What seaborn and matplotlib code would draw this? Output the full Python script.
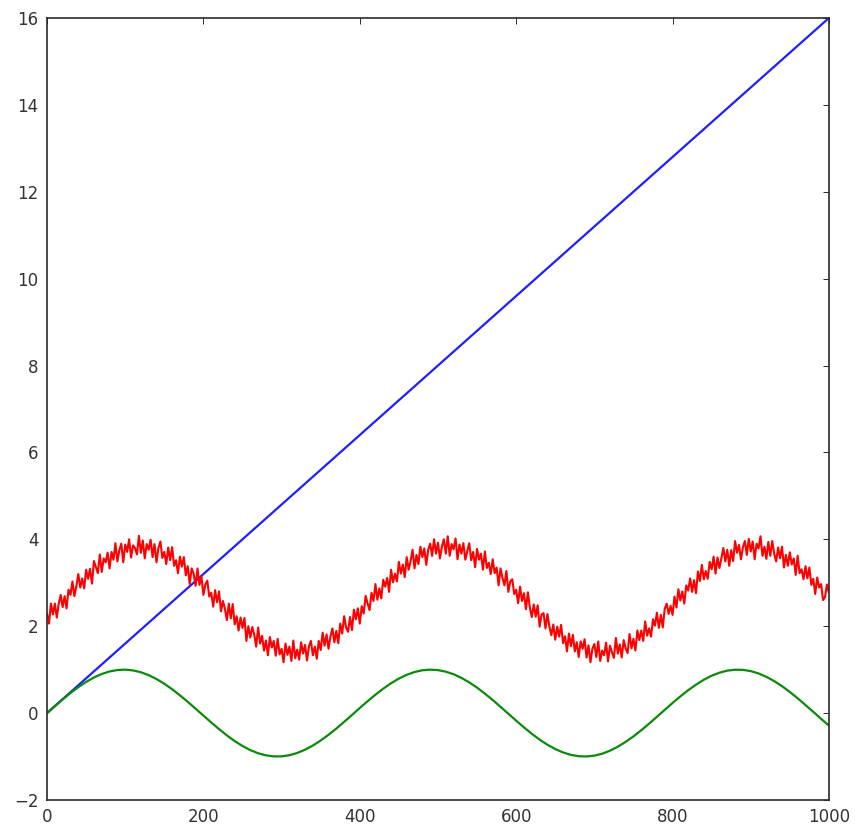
import matplotlib
matplotlib.use("Agg")
import matplotlib.pyplot as plt
import seaborn as sns

# x positions for each series
x_line = [0, 1000]
x_wave = [i * 10 for i in range(101)]
x_noisy = [i * 2.5 for i in range(401)]

# straight ramp
y_line = [0.0, 16.0]

# smooth wave
y_wave = [
    0.000, 0.159, 0.315, 0.462, 0.597, 0.717, 0.819, 0.900, 0.958, 0.991,
    1.000, 0.982, 0.940, 0.873, 0.784, 0.675, 0.549, 0.408, 0.259, 0.101,
    -0.058, -0.216, -0.369, -0.513, -0.645, -0.757, -0.853, -0.925, -0.973, -0.997,
    -0.996, -0.970, -0.918, -0.843, -0.747, -0.631, -0.500, -0.356, -0.202, -0.043,
    0.117, 0.273, 0.423, 0.562, 0.687, 0.794, 0.880, 0.945, 0.985, 1.000,
    0.989, 0.953, 0.894, 0.810, 0.706, 0.585, 0.448, 0.301, 0.144, -0.015,
    -0.175, -0.329, -0.476, -0.611, -0.729, -0.828, -0.906, -0.962, -0.993, -0.999,
    -0.980, -0.935, -0.866, -0.774, -0.662, -0.537, -0.395, -0.244, -0.086, 0.074,
    0.232, 0.384, 0.526, 0.655, 0.767, 0.860, 0.930, 0.977, 0.998, 0.995,
    0.966, 0.912, 0.835, 0.736, 0.619, 0.486, 0.341, 0.186, 0.028, -0.132,
    -0.288,
]

# noisy, offset wave
y_noisy = [
    2.29, 2.06, 2.52, 2.27, 2.52, 2.20, 2.52, 2.72, 2.44, 2.69,
    2.41, 2.84, 2.72, 3.03, 2.69, 2.92, 3.20, 2.89, 3.10, 2.87,
    3.30, 3.09, 3.32, 2.98, 3.50, 3.36, 3.22, 3.65, 3.25, 3.56,
    3.47, 3.69, 3.33, 3.71, 3.53, 3.91, 3.49, 3.75, 3.90, 3.47,
    3.88, 3.71, 4.00, 3.58, 3.86, 3.80, 3.65, 4.08, 3.69, 3.97,
    3.56, 3.89, 3.76, 3.99, 3.59, 3.89, 3.47, 3.80, 3.95, 3.57,
    3.71, 3.43, 3.81, 3.52, 3.82, 3.39, 3.52, 3.22, 3.60, 3.37,
    3.59, 3.17, 3.38, 2.97, 3.33, 3.21, 2.93, 3.33, 2.95, 3.14,
    2.72, 2.96, 3.05, 2.68, 2.77, 2.45, 2.83, 2.55, 2.80, 2.34,
    2.58, 2.40, 2.14, 2.52, 2.18, 2.51, 2.04, 2.23, 1.90, 2.20,
    1.96, 2.19, 1.66, 2.00, 1.74, 1.98, 1.81, 1.53, 1.97, 1.60,
    1.78, 1.44, 1.67, 1.33, 1.75, 1.51, 1.66, 1.32, 1.71, 1.35,
    1.48, 1.17, 1.60, 1.34, 1.53, 1.20, 1.67, 1.26, 1.46, 1.23,
    1.63, 1.37, 1.57, 1.21, 1.54, 1.66, 1.33, 1.53, 1.25, 1.66,
    1.45, 1.85, 1.55, 1.81, 1.48, 1.76, 1.95, 1.63, 1.89, 1.61,
    2.06, 1.83, 2.23, 1.97, 1.87, 2.21, 1.91, 2.38, 2.16, 2.41,
    2.06, 2.46, 2.29, 2.70, 2.52, 2.37, 2.77, 2.58, 2.97, 2.61,
    2.87, 2.64, 3.07, 2.91, 3.11, 2.79, 3.30, 3.01, 3.21, 3.03,
    3.48, 3.21, 3.42, 3.13, 3.59, 3.30, 3.50, 3.76, 3.33, 3.64,
    3.43, 3.83, 3.59, 3.79, 3.41, 3.76, 3.90, 3.62, 4.00, 3.67,
    3.92, 3.56, 3.83, 4.00, 3.67, 4.07, 3.62, 3.89, 3.77, 4.02,
    3.54, 3.88, 3.67, 3.91, 3.53, 3.73, 3.91, 3.52, 3.71, 3.36,
    3.78, 3.53, 3.67, 3.30, 3.72, 3.34, 3.46, 3.20, 3.54, 3.22,
    3.35, 2.94, 3.33, 3.11, 2.94, 3.27, 2.79, 3.03, 3.08, 2.74,
    2.84, 2.53, 2.91, 2.58, 2.76, 2.39, 2.78, 2.43, 2.21, 2.50,
    2.22, 2.48, 1.99, 2.27, 2.30, 1.95, 2.28, 1.99, 1.79, 2.04,
    1.69, 1.99, 1.76, 2.03, 1.61, 1.77, 1.42, 1.83, 1.54, 1.80,
    1.42, 1.63, 1.29, 1.65, 1.48, 1.70, 1.28, 1.56, 1.17, 1.48,
    1.59, 1.29, 1.65, 1.20, 1.44, 1.33, 1.62, 1.19, 1.55, 1.40,
    1.27, 1.73, 1.37, 1.58, 1.28, 1.68, 1.49, 1.38, 1.82, 1.49,
    1.71, 1.44, 1.90, 1.68, 1.90, 1.66, 2.11, 1.78, 1.95, 1.76,
    2.16, 2.01, 2.31, 1.96, 2.26, 1.97, 2.40, 2.52, 2.28, 2.47,
    2.26, 2.68, 2.43, 2.85, 2.59, 2.80, 2.52, 2.94, 2.82, 3.10,
    2.79, 3.06, 2.76, 3.26, 3.04, 3.41, 3.08, 3.27, 3.09, 3.48,
    3.31, 3.60, 3.21, 3.58, 3.34, 3.57, 3.80, 3.49, 3.76, 3.39,
    3.75, 3.50, 3.96, 3.69, 3.87, 3.54, 3.82, 3.96, 3.64, 4.01,
    3.72, 3.95, 3.54, 3.90, 3.79, 4.07, 3.62, 3.83, 3.55, 3.94,
    3.62, 3.96, 3.67, 3.49, 3.81, 3.56, 3.83, 3.35, 3.64, 3.39,
    3.70, 3.42, 3.56, 3.18, 3.62, 3.22, 3.31, 3.08, 3.38, 3.10,
    3.35, 2.95, 3.09, 2.74, 3.12, 2.89, 2.97, 2.60, 2.67, 2.96,
    2.77,
]

sns.set_style("white")
plt.rcParams.update({
    "font.family": ["DejaVu Sans"],
    "font.size": 12,
    "axes.edgecolor": "#2a2a2a",
    "axes.linewidth": 1.2,
    "xtick.direction": "in",
    "ytick.direction": "in",
    "xtick.top": True,
    "ytick.right": True,
    "xtick.color": "#2a2a2a",
    "ytick.color": "#2a2a2a",
    "xtick.labelcolor": "#333333",
    "ytick.labelcolor": "#333333",
})

fig = plt.figure(figsize=(8.55, 8.32), dpi=100)
ax = fig.add_axes([0.055, 0.0385, 0.9145, 0.9399])

sns.lineplot(x=x_line, y=y_line, ax=ax, color="#1f1fff", linewidth=1.6)
sns.lineplot(x=x_wave, y=y_wave, ax=ax, color="#0a8a0a", linewidth=1.6)
sns.lineplot(x=x_noisy, y=y_noisy, ax=ax, color="#ff0000", linewidth=1.5)

ax.set_xlim(0, 1000)
ax.set_ylim(-2, 16)
ax.set_xticks(range(0, 1001, 200))
ax.set_yticks(range(-2, 17, 2))
ax.tick_params(axis="both", which="major", length=4, width=0.7, labelsize=12, pad=6)
for s in ax.spines.values():
    s.set_visible(True)

fig.savefig("out.png", dpi=100)
